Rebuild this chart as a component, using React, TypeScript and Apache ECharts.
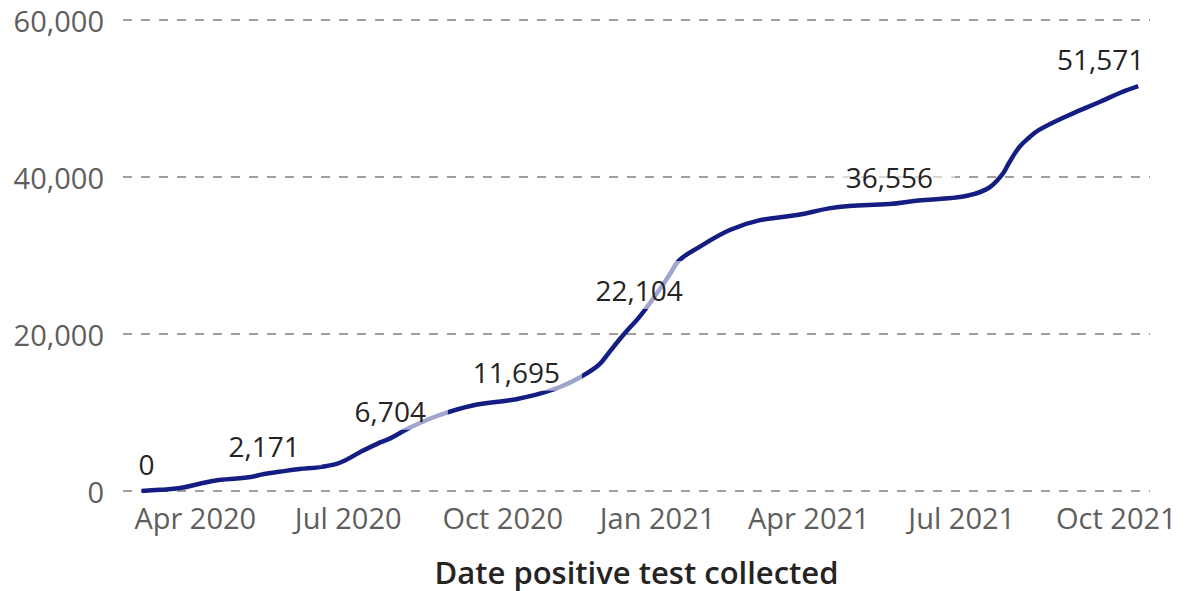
import React, { useEffect, useRef } from "react";
import * as echarts from "echarts";

const dates = [
  "2020-02-29", "2020-03-11", "2020-03-23", "2020-04-03", "2020-04-15", "2020-05-03",
  "2020-05-12", "2020-05-21", "2020-06-02", "2020-06-14", "2020-06-26", "2020-07-08",
  "2020-07-20", "2020-07-26", "2020-08-06", "2020-08-24", "2020-09-13", "2020-10-03",
  "2020-10-09", "2020-10-23", "2020-11-04", "2020-11-16", "2020-11-27", "2020-12-03",
  "2020-12-09", "2020-12-15", "2020-12-21", "2021-01-02", "2021-01-08", "2021-01-14",
  "2021-01-26", "2021-02-13", "2021-03-03", "2021-03-25", "2021-04-13", "2021-04-25",
  "2021-05-19", "2021-06-05", "2021-06-23", "2021-07-05", "2021-07-17", "2021-07-25",
  "2021-07-29", "2021-08-04", "2021-08-10", "2021-08-16", "2021-09-03", "2021-09-21",
  "2021-10-03", "2021-10-14",
];

const cumulativeCases = [
  0, 150, 380, 890, 1400, 1750,
  2171, 2450, 2800, 3050, 3600, 4950,
  6200, 6704, 8000, 9650, 10900, 11500,
  11695, 12400, 13250, 14500, 16050, 17600,
  19200, 20700, 22104, 25600, 27500, 29400,
  31100, 33250, 34500, 35150, 36000, 36300,
  36556, 37000, 37300, 37650, 38600, 40300,
  41750, 43750, 45000, 46000, 47900, 49550,
  50700, 51571,
];

const labelledDates = [
  "2020-02-29", "2020-05-12", "2020-07-26", "2020-10-09",
  "2020-12-21", "2021-05-19", "2021-10-14",
];

const xTickDates = [
  "2020-04-01", "2020-07-01", "2020-10-01", "2021-01-01",
  "2021-04-01", "2021-07-01", "2021-10-01",
];

const monthNames = ["Jan", "Feb", "Mar", "Apr", "May", "Jun", "Jul", "Aug", "Sep", "Oct", "Nov", "Dec"];

const xMin = "2020-02-18";
const xMax = "2021-10-21";

function toTime(s: string): number {
  const [y, m, d] = s.split("-").map(Number);
  return new Date(y, m - 1, d).getTime();
}

const FONT = "'Open Sans', 'Noto Sans', sans-serif";

export default function App() {
  const ref = useRef<HTMLDivElement>(null);

  useEffect(() => {
    document.body.style.margin = "0";
    document.body.style.overflow = "hidden";
    if (!ref.current) return;
    const chart = echarts.init(ref.current, undefined, { renderer: "svg" });

    const lastIdx = dates.length - 1;
    const data = dates.map((d, i) => {
      const item: any = { value: [toTime(d), cumulativeCases[i]] };
      if (labelledDates.includes(d)) {
        const lbl: any = { show: true };
        if (i === 0) lbl.offset = [14, 0];
        else if (i === lastIdx) {
          lbl.align = "right";
          lbl.offset = [28, 0];
        } else lbl.offset = [9, 0];
        item.label = lbl;
      }
      return item;
    });

    chart.setOption({
      animation: false,
      backgroundColor: "#ffffff",
      textStyle: { fontFamily: FONT },
      grid: {
        left: 123,
        right: 36,
        top: 20,
        bottom: 100,
        containLabel: false,
        outerBoundsMode: "none",
      },
      xAxis: {
        type: "value",
        min: toTime(xMin),
        max: toTime(xMax),
        name: "Date positive test collected",
        nameLocation: "middle",
        nameGap: 65,
        nameTextStyle: {
          fontSize: 31,
          fontWeight: 600,
          color: "#252423",
          fontFamily: FONT,
        },
        axisLine: { show: false },
        axisTick: { show: false },
        splitLine: { show: false },
        axisLabel: {
          customValues: xTickDates.map(toTime),
          formatter: (v: number) => {
            const d = new Date(v);
            return monthNames[d.getMonth()] + " " + d.getFullYear();
          },
          fontSize: 29,
          color: "#605E5C",
          margin: 12,
          fontFamily: FONT,
          hideOverlap: false,
        },
      },
      yAxis: {
        type: "value",
        min: 0,
        max: 60000,
        interval: 20000,
        axisLine: { show: false },
        axisTick: { show: false },
        axisLabel: {
          formatter: (v: number) => v.toLocaleString("en-US"),
          fontSize: 29,
          color: "#605E5C",
          margin: 19,
          fontFamily: FONT,
        },
        splitLine: {
          show: true,
          lineStyle: { type: [9, 9], color: "#A19F9D", width: 2 },
        },
      },
      series: [
        {
          type: "line",
          data,
          smooth: 0.4,
          symbol: "circle",
          symbolSize: 1,
          showSymbol: true,
          itemStyle: { color: "rgba(0,0,0,0)", borderWidth: 0 },
          lineStyle: { color: "#141E82", width: 4.5 },
          label: {
            show: false,
            position: "top",
            distance: 8,
            fontSize: 28,
            lineHeight: 30,
            color: "#252423",
            fontFamily: FONT,
            backgroundColor: "rgba(255,255,255,0.6)",
            padding: [14, 22, 4, 4],
            formatter: (p: any) => Number(p.value[1]).toLocaleString("en-US"),
          },
          emphasis: { disabled: true },
        },
      ],
    });

    return () => chart.dispose();
  }, []);

  return <div ref={ref} style={{ width: 1186, height: 591 }} />;
}
